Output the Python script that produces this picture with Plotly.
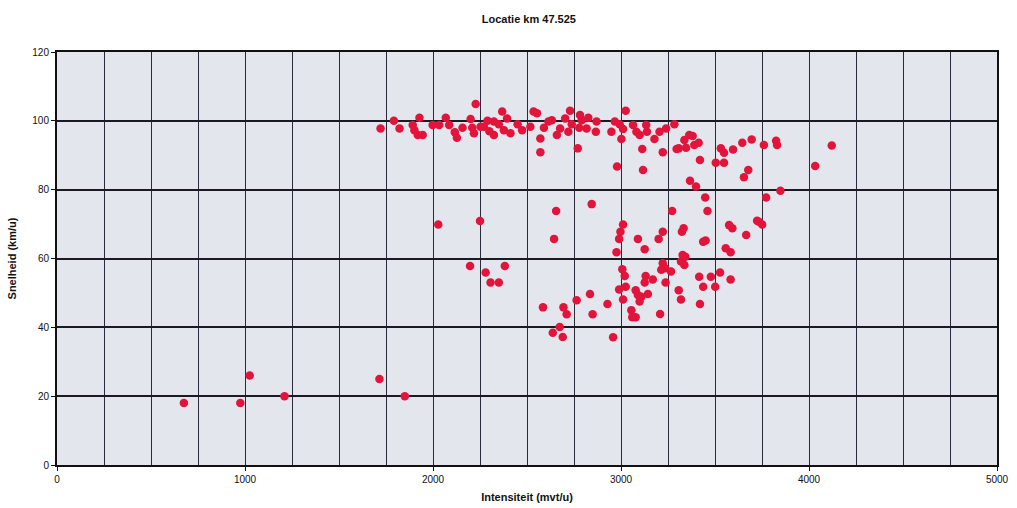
import plotly.graph_objects as go

# Intensity (vehicles/hour) and speed (km/h) measurements at km 47.525
intensiteit = [
    675, 975, 1025, 1210, 1715, 1850,
    1721, 1792, 1822, 1892, 1901, 1928, 1919, 1945, 1998, 2033, 2068, 2086,
    2116, 2127, 2157, 2200, 2209, 2218, 2227, 2253, 2271, 2290, 2300, 2324,
    2324, 2350, 2368, 2377, 2394, 2412, 2450, 2474, 2518, 2535, 2553, 2571,
    2571, 2590, 2614, 2632, 2676, 2659, 2729, 2703, 2738, 2720, 2782, 2791,
    2826, 2778, 2817, 2870, 2866, 2770, 2949, 2967, 2993, 3011, 3025, 3002,
    3064, 3082, 3099, 3134, 3138, 3113, 3178, 3205, 3240, 3284, 3222, 3296,
    2979, 3117,
    3363, 3381, 3337, 3390, 3413, 3307, 3346, 3420, 3531, 3548, 3596, 3645,
    3695, 3760, 3825, 3830, 4121, 3504, 3548, 3677, 3654, 4033, 3367, 3399,
    3848, 3772, 3448, 3460, 3272,
    3011, 2997, 2990, 2976, 3090, 3126, 3200, 3222, 3324, 3333, 3437, 3450,
    3575, 3592, 3666, 3733, 3751, 3724, 3557, 3583, 3222, 3235, 3214, 3266,
    3319, 3342, 3337, 3328, 3007, 3020, 3131, 3169, 3126, 3237, 2990, 3025,
    3078, 3090, 3108, 3143, 3099, 3011, 2928, 3055, 3060, 3078, 3208, 3307,
    3319, 3416, 3478, 3437, 3501, 3527, 3583, 3420, 2958,
    2028, 2250, 2197, 2280, 2306, 2350, 2382, 2655, 2644, 2844, 2585, 2694,
    2711, 2764, 2835, 2849, 2637, 2674, 2690,
]
snelheid = [
    18, 18, 26, 20, 25, 20,
    97.8, 100, 97.8, 98.8, 97.3, 100.9, 95.9, 95.9, 98.8, 98.8, 100.9, 98.8,
    96.7, 95.1, 98, 100.5, 98, 96.4, 104.9, 98.3, 98.3, 100, 97, 99.8,
    95.9, 99, 102.7, 97.3, 100.7, 96.4, 99, 97.3, 98.3, 102.7, 102.2, 94.9,
    90.9, 98, 99.8, 100.2, 97.8, 95.9, 102.9, 100.7, 99, 96.8, 101.7, 100.2,
    100.9, 98, 97.8, 99.8, 96.8, 92, 96.8, 99.8, 99, 97.6, 102.9, 94.7,
    98.8, 96.8, 95.9, 98.8, 96.8, 91.8, 94.7, 96.8, 97.8, 99, 90.9, 91.8,
    86.7, 85.7,
    95.9, 95.6, 94.4, 93, 93.6, 92, 92.2, 88.6, 92, 90.7, 91.7, 93.6,
    94.6, 93, 94.2, 93, 92.8, 87.8, 87.8, 85.7, 83.6, 86.9, 82.6, 80.9,
    79.7, 77.7, 77.7, 73.8, 73.8,
    69.9, 67.8, 65.7, 61.8, 65.7, 62.7, 65.7, 67.8, 67.8, 68.8, 64.9, 65.2,
    69.7, 68.8, 66.8, 70.7, 69.9, 71, 63, 61.8, 58.6, 57.2, 56.7, 56.2,
    59.1, 60.5, 58.1, 61, 56.9, 54.9, 54.9, 53.9, 53, 53, 51, 51.8,
    50.8, 49.4, 48.9, 49.7, 47.5, 48.1, 46.8, 45, 42.9, 42.9, 43.9, 50.8,
    48.1, 54.7, 54.7, 51.8, 51.8, 55.9, 53.9, 46.8, 37.1,
    69.9, 70.9, 57.8, 55.9, 53, 53, 57.8, 73.8, 65.7, 75.8, 45.8, 45.8,
    43.8, 47.9, 49.7, 43.8, 38.4, 40.1, 37.2,
]

x_ticks = [0, 1000, 2000, 3000, 4000, 5000]
y_ticks = [0, 20, 40, 60, 80, 100, 120]

fig = go.Figure(
    go.Scatter(
        x=intensiteit,
        y=snelheid,
        mode="markers",
        marker=dict(size=8.5, color="#e3143c", line=dict(width=0)),
        hoverinfo="x+y",
    )
)

grid_color = "#2a2a38"
font_main = "Arial, Liberation Sans, sans-serif"

fig.update_layout(
    width=1017,
    height=508,
    margin=dict(l=57, r=20, t=52, b=43),
    paper_bgcolor="white",
    plot_bgcolor="#e3e6ed",
    showlegend=False,
    title=dict(
        text="<b>Locatie km 47.525</b>",
        x=0.52,
        xanchor="center",
        y=0.963,
        yanchor="middle",
        font=dict(family=font_main, size=11, color="#111"),
    ),
    font=dict(family=font_main, size=10, color="#111"),
)

fig.update_xaxes(
    range=[0, 5000],
    tickvals=x_ticks,
    ticktext=[str(v) for v in x_ticks],
    automargin=False,
    showgrid=True,
    gridcolor=grid_color,
    gridwidth=1.2,
    minor=dict(dtick=250, showgrid=True, gridcolor=grid_color, gridwidth=1.2),
    showline=True,
    linecolor="#111",
    linewidth=2,
    mirror=True,
    ticks="outside",
    ticklen=4,
    tickcolor="#111",
    zeroline=False,
    tickfont=dict(size=10, color="#111"),
    title=dict(text="<b>Intensiteit (mvt/u)</b>", font=dict(size=11), standoff=9),
)

fig.update_yaxes(
    range=[0, 120],
    tickvals=y_ticks,
    ticktext=[str(v) for v in y_ticks],
    automargin=False,
    showgrid=True,
    gridcolor="#1a1a22",
    gridwidth=1.6,
    showline=True,
    linecolor="#111",
    linewidth=2,
    mirror=True,
    ticks="outside",
    ticklen=4,
    tickcolor="#111",
    zeroline=False,
    tickfont=dict(size=10, color="#111"),
    title=dict(text="<b>Snelheid (km/u)</b>", font=dict(size=11), standoff=13),
)

fig.write_html("out.html")
